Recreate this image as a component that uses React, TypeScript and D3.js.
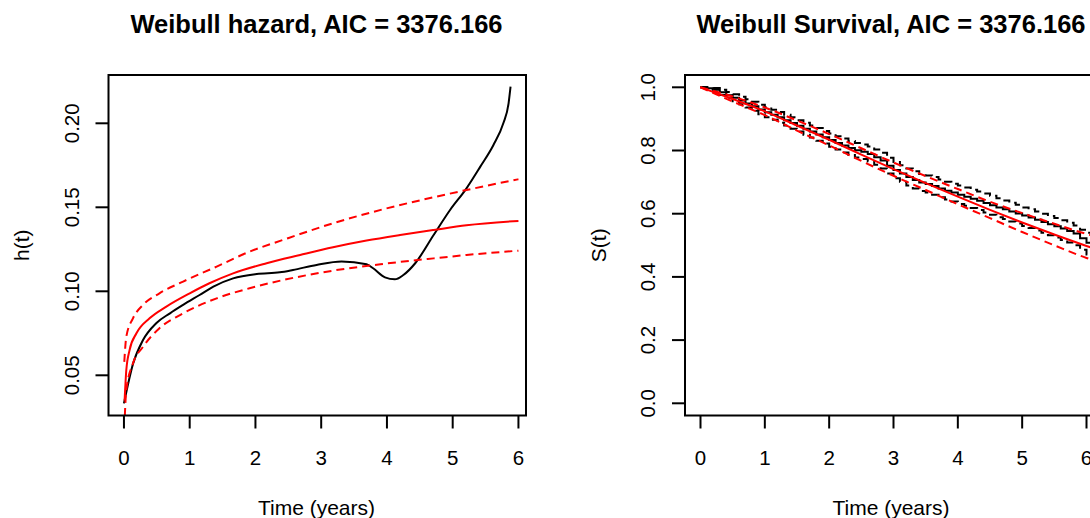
import React from 'react';
import * as d3 from 'd3';

// left panel: smoothed empirical hazard (black) and Weibull fit with CI (red)
const hazObsT = [0, 0.14, 0.29, 0.49, 0.7, 0.9, 1.15, 1.36, 1.66, 2.02, 2.37, 2.57, 2.93, 3.31, 3.69, 3.79, 3.97, 4.12, 4.25, 4.43, 4.71, 4.96, 5.21, 5.42, 5.62, 5.77, 5.85, 5.88];
const hazObs = [0.0333, 0.0571, 0.071, 0.081, 0.0869, 0.0919, 0.0978, 0.1028, 0.1077, 0.1103, 0.1113, 0.1127, 0.1157, 0.1177, 0.1161, 0.1137, 0.1083, 0.1071, 0.1097, 0.1167, 0.1335, 0.1484, 0.1613, 0.1742, 0.1871, 0.2, 0.2119, 0.2218];

const hazFitT = [0.01, 0.036, 0.086, 0.19, 0.39, 0.645, 1.0, 1.3, 1.66, 2.17, 2.68, 3.18, 3.69, 4.2, 4.71, 5.21, 6.0];
const hazFit = [0.035, 0.0532, 0.0651, 0.075, 0.0839, 0.0909, 0.0988, 0.1048, 0.1107, 0.1167, 0.1216, 0.1262, 0.1302, 0.1335, 0.1365, 0.1393, 0.1419];

const hazCiT = [0.005, 0.036, 0.137, 0.29, 0.54, 0.9, 1.41, 1.91, 2.42, 3.18, 3.94, 4.71, 5.21, 6.0];
const hazUpper = [0.058, 0.073, 0.0839, 0.0919, 0.0988, 0.1058, 0.1147, 0.1236, 0.1306, 0.1405, 0.1488, 0.156, 0.1603, 0.1667];
const hazLower = [0.018, 0.0413, 0.0571, 0.067, 0.078, 0.0869, 0.0958, 0.1018, 0.1067, 0.1123, 0.1163, 0.1196, 0.1216, 0.1242];

// right panel: Kaplan-Meier (black, steps) with CI, and Weibull survival (red)
const kmT = [0, 0.1, 0.2, 0.3, 0.4, 0.5, 0.6, 0.7, 0.8, 0.9, 1.0, 1.1, 1.2, 1.3, 1.4, 1.5, 1.6, 1.7, 1.8, 1.9, 2.0, 2.1, 2.2, 2.3, 2.4, 2.5, 2.6, 2.7, 2.8, 2.9, 3.0, 3.1, 3.2, 3.3, 3.4, 3.5, 3.6, 3.7, 3.8, 3.9, 4.0, 4.1, 4.2, 4.3, 4.4, 4.5, 4.6, 4.7, 4.8, 4.9, 5.0, 5.1, 5.2, 5.3, 5.4, 5.5, 5.6, 5.7, 5.8, 5.9, 6.0, 6.1, 6.15];
const km = [1.0, 0.997, 0.992, 0.984, 0.975, 0.967, 0.958, 0.949, 0.94, 0.93, 0.921, 0.913, 0.905, 0.896, 0.887, 0.878, 0.869, 0.86, 0.851, 0.842, 0.833, 0.824, 0.816, 0.808, 0.801, 0.796, 0.789, 0.779, 0.768, 0.752, 0.738, 0.727, 0.716, 0.707, 0.699, 0.694, 0.688, 0.68, 0.673, 0.667, 0.66, 0.654, 0.647, 0.641, 0.634, 0.627, 0.62, 0.614, 0.607, 0.601, 0.594, 0.588, 0.581, 0.574, 0.567, 0.56, 0.553, 0.545, 0.537, 0.522, 0.508, 0.503, 0.502];
const kmUpper = [1.0, 1.0, 0.998, 0.992, 0.985, 0.978, 0.97, 0.962, 0.954, 0.945, 0.937, 0.929, 0.922, 0.913, 0.905, 0.896, 0.888, 0.879, 0.871, 0.862, 0.854, 0.845, 0.838, 0.83, 0.824, 0.819, 0.813, 0.803, 0.793, 0.777, 0.764, 0.753, 0.743, 0.734, 0.726, 0.721, 0.716, 0.708, 0.701, 0.695, 0.689, 0.683, 0.676, 0.67, 0.664, 0.657, 0.649, 0.642, 0.635, 0.628, 0.62, 0.614, 0.607, 0.6, 0.593, 0.586, 0.579, 0.571, 0.563, 0.549, 0.54, 0.538, 0.538];
const kmLower = [1.0, 0.994, 0.986, 0.976, 0.965, 0.956, 0.946, 0.936, 0.926, 0.915, 0.905, 0.897, 0.888, 0.879, 0.869, 0.86, 0.85, 0.841, 0.831, 0.822, 0.812, 0.803, 0.794, 0.786, 0.778, 0.773, 0.765, 0.755, 0.743, 0.727, 0.712, 0.701, 0.689, 0.68, 0.672, 0.667, 0.66, 0.652, 0.645, 0.639, 0.631, 0.625, 0.618, 0.612, 0.604, 0.597, 0.589, 0.583, 0.575, 0.569, 0.561, 0.555, 0.547, 0.54, 0.532, 0.525, 0.517, 0.509, 0.5, 0.486, 0.471, 0.468, 0.468];

const survT = [0, 0.5, 1, 1.5, 2, 2.5, 3, 3.5, 4, 4.5, 5, 5.5, 6, 6.15];
const survFit = [1.0, 0.963, 0.924, 0.879, 0.834, 0.787, 0.741, 0.697, 0.654, 0.612, 0.572, 0.534, 0.498, 0.488];
const survUpper = [1.0, 0.971, 0.936, 0.895, 0.852, 0.807, 0.762, 0.719, 0.678, 0.638, 0.602, 0.568, 0.536, 0.528];
const survLower = [1.0, 0.955, 0.912, 0.863, 0.816, 0.767, 0.72, 0.675, 0.63, 0.586, 0.542, 0.5, 0.46, 0.45];

const timeTicks = [0, 1, 2, 3, 4, 5, 6];
const hazTicks = [0.05, 0.1, 0.15, 0.2];
const survTicks = [0, 0.2, 0.4, 0.6, 0.8, 1.0];

const FONT = '"Liberation Sans", Arial, Helvetica, sans-serif';
const RED = '#ff0000';

const Panel = ({ id, box, x, y, yTicks, fmt, title, ylab, lines }) => {
  const tick = 13;
  return (
    <g fontFamily={FONT}>
      <defs>
        <clipPath id={id}>
          <rect x={box.l} y={box.t} width={box.r - box.l} height={box.b - box.t} />
        </clipPath>
      </defs>
      <g clipPath={`url(#${id})`}>
        {lines.map((s, i) => {
          const gen = d3
            .line()
            .x((d, j) => x(s.t[j]))
            .y(d => y(d))
            .curve(s.step ? d3.curveStepAfter : d3.curveMonotoneX);
          return (
            <path
              key={i}
              d={gen(s.v)}
              fill="none"
              stroke={s.color}
              strokeWidth={2}
              strokeDasharray={s.dash ? '8 5' : undefined}
            />
          );
        })}
      </g>
      <rect x={box.l} y={box.t} width={box.r - box.l} height={box.b - box.t} fill="none" stroke="#000" strokeWidth={2} />
      {timeTicks.map(t => (
        <g key={t}>
          <line x1={x(t)} x2={x(t)} y1={box.b} y2={box.b + tick} stroke="#000" strokeWidth={2} />
          <text x={x(t)} y={457} fontSize={20.5} textAnchor="middle" dominantBaseline="central">{t}</text>
        </g>
      ))}
      {yTicks.map(v => (
        <g key={v}>
          <line x1={box.l - tick} x2={box.l} y1={y(v)} y2={y(v)} stroke="#000" strokeWidth={2} />
          <text
            transform={`translate(${box.l - 37.5},${y(v)}) rotate(-90)`}
            fontSize={20.5}
            textAnchor="middle"
            dominantBaseline="central"
          >
            {fmt(v)}
          </text>
        </g>
      ))}
      <text x={box.cx} y={24} fontSize={25.5} fontWeight="bold" textAnchor="middle" dominantBaseline="central">{title}</text>
      <text x={box.cx} y={507} fontSize={21} textAnchor="middle" dominantBaseline="central">Time (years)</text>
      <text
        transform={`translate(${box.l - 87},${(box.t + box.b) / 2}) rotate(-90)`}
        fontSize={21}
        textAnchor="middle"
        dominantBaseline="central"
      >
        {ylab}
      </text>
    </g>
  );
};

export default function App() {
  const leftBox = { l: 108.5, r: 526, t: 75, b: 415.5, cx: 316.5 };
  const xL = d3.scaleLinear().domain([-0.235, 6.115]).range([leftBox.l, leftBox.r]);
  const yL = d3.scaleLinear().domain([0.05, 0.2]).range([375.3, 123.3]);

  const rightBox = { l: 685, r: 1097, t: 75, b: 415.5, cx: 891 };
  const xR = d3.scaleLinear().domain([0, 6]).range([700.5, 1086.5]);
  const yR = d3.scaleLinear().domain([0, 1]).range([403.3, 87.3]);

  const hazLines = [
    { t: hazObsT, v: hazObs, color: '#000' },
    { t: hazFitT, v: hazFit, color: RED },
    { t: hazCiT, v: hazUpper, color: RED, dash: true },
    { t: hazCiT, v: hazLower, color: RED, dash: true },
  ];
  const survLines = [
    { t: kmT, v: km, color: '#000', step: true },
    { t: kmT, v: kmUpper, color: '#000', step: true, dash: true },
    { t: kmT, v: kmLower, color: '#000', step: true, dash: true },
    { t: survT, v: survFit, color: RED },
    { t: survT, v: survUpper, color: RED, dash: true },
    { t: survT, v: survLower, color: RED, dash: true },
  ];

  return (
    <svg width={1090} height={518} style={{ position: 'absolute', left: 0, top: 0, background: '#fff' }}>
      <rect width={1090} height={518} fill="#fff" />
      <Panel
        id="clipL"
        box={leftBox}
        x={xL}
        y={yL}
        yTicks={hazTicks}
        fmt={d3.format('.2f')}
        title="Weibull hazard, AIC = 3376.166"
        ylab="h(t)"
        lines={hazLines}
      />
      <Panel
        id="clipR"
        box={rightBox}
        x={xR}
        y={yR}
        yTicks={survTicks}
        fmt={d3.format('.1f')}
        title="Weibull Survival, AIC = 3376.166"
        ylab="S(t)"
        lines={survLines}
      />
    </svg>
  );
}
